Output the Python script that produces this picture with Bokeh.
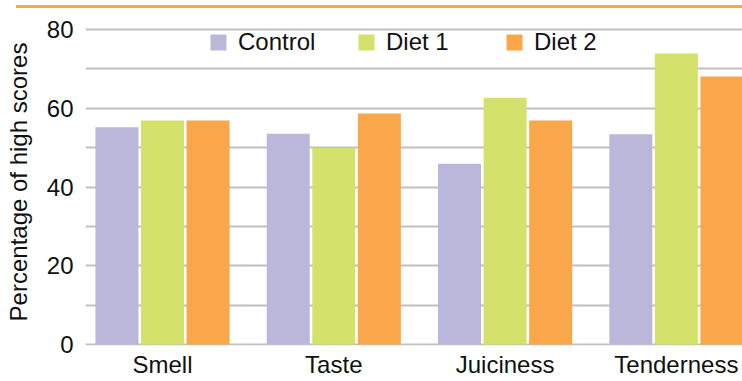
from bokeh.plotting import figure
from bokeh.models import Range1d, FixedTicker, Legend, LegendItem, ColumnDataSource, Div
from bokeh.layouts import column
from bokeh.embed import file_html
from bokeh.resources import INLINE

categories = ["Smell", "Taste", "Juiciness", "Tenderness"]
series = ["Control", "Diet 1", "Diet 2"]
control = [55.2, 53.5, 45.9, 53.4]
diet1 = [56.9, 49.9, 62.7, 73.9]
diet2 = [56.9, 58.7, 56.9, 68.1]
y_ticks = [0, 20, 40, 60, 80]
y_minor = [10, 30, 50, 70]

colors = ["#BBB7DA", "#D4E16A", "#FAA64A"]
FONT = "Liberation Sans"
TXT = "#111111"
FS = "24px"

# top decorative rule
rule = Div(text='<div style="position:absolute;left:16px;top:5px;width:726px;height:2.5px;'
                'background:#FAA64A"></div>',
           width=742, height=8, margin=0)

p = figure(width=742, height=373, toolbar_location=None, output_backend="svg",
           x_range=Range1d(-0.4495, 3.386), y_range=Range1d(-0.25, 82.8),
           min_border_left=85, min_border_right=0, min_border_top=10, min_border_bottom=36,
           margin=0)
p.outline_line_color = None
p.background_fill_color = "white"

xs = list(range(len(categories)))
offsets = [-0.266, 0.0, 0.266]
renderers = []
for vals, off, col in zip([control, diet1, diet2], offsets, colors):
    src = ColumnDataSource(dict(x=[x + off for x in xs], top=vals))
    r = p.vbar(x="x", top="top", bottom=0, width=0.251, source=src,
               fill_color=col, line_color=None)
    renderers.append(r)

p.xgrid.visible = False
p.ygrid.grid_line_color = "#C0C0C0"
p.ygrid.grid_line_width = 2
p.ygrid.minor_grid_line_color = "#C0C0C0"
p.ygrid.minor_grid_line_width = 2
p.ygrid.level = "underlay"

p.yaxis.ticker = FixedTicker(ticks=y_ticks, minor_ticks=y_minor)
p.xaxis.ticker = FixedTicker(ticks=xs)
p.xaxis.major_label_overrides = {i: c for i, c in enumerate(categories)}

for ax in [p.xaxis[0], p.yaxis[0]]:
    ax.axis_line_color = None
    ax.major_tick_line_color = None
    ax.minor_tick_line_color = None
    ax.major_tick_out = 0
    ax.minor_tick_out = 0
    ax.major_tick_in = 0
    ax.minor_tick_in = 0
    ax.major_label_text_font = FONT
    ax.major_label_text_font_size = FS
    ax.major_label_text_color = TXT

p.yaxis.major_label_standoff = 12
p.xaxis.major_label_standoff = 5
p.yaxis.axis_label = "Percentage of high scores"
p.yaxis.axis_label_text_font = FONT
p.yaxis.axis_label_text_font_size = FS
p.yaxis.axis_label_text_font_style = "normal"
p.yaxis.axis_label_text_color = TXT
p.yaxis.axis_label_standoff = 12

legend = Legend(items=[LegendItem(label=s, renderers=[r]) for s, r in zip(series, renderers)],
                orientation="horizontal", location=(123, 289))
legend.border_line_color = None
legend.background_fill_alpha = 0
legend.padding = 0
legend.margin = 0
legend.glyph_width = 20
legend.glyph_height = 20
legend.label_standoff = 10
legend.label_width = 108
legend.spacing = 10
legend.label_text_font = FONT
legend.label_text_font_size = FS
legend.label_text_color = TXT
p.add_layout(legend, "center")

layout = column(rule, p, spacing=0)
open("out.html", "w").write(file_html(layout, INLINE))
